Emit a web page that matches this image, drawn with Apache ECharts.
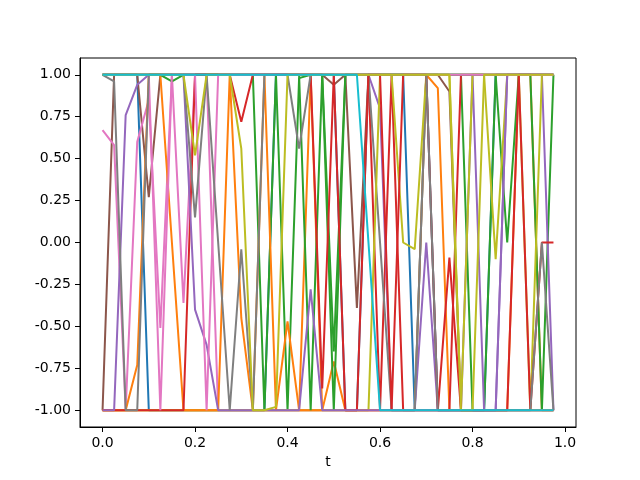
<!DOCTYPE html>
<html>
<head>
    <meta charset="utf-8">
    <title>t lines</title>
    <script src="https://cdn.jsdelivr.net/npm/echarts@6/dist/echarts.min.js"></script>
</head>
<style>
  body { margin: 0; background: #fff; }
</style>
<body>
    <div id="main" style="width: 640px;height:480px;"></div>
    <script type="text/javascript">
    // x values (t)
    var tValues = [0, 0.025, 0.05, 0.075, 0.1, 0.125, 0.15, 0.175, 0.2, 0.225,
                   0.25, 0.275, 0.3, 0.325, 0.35, 0.375, 0.4, 0.425, 0.45, 0.475,
                   0.5, 0.525, 0.55, 0.575, 0.6, 0.625, 0.65, 0.675, 0.7, 0.725,
                   0.75, 0.775, 0.8, 0.825, 0.85, 0.875, 0.9, 0.925, 0.95, 0.975];
    var xTicks = [0, 0.2, 0.4, 0.6, 0.8, 1.0];
    var yTicks = [-1, -0.75, -0.5, -0.25, 0, 0.25, 0.5, 0.75, 1];

    var blueA = [1,1,1,1,-1,-1,-1,-1,-1,-1, -1,-1,-1,-1,-1,1,1,1,1,1, 1,-1,-1,1,1,1,1,-1,1,-1, -1,-1,-1,-1,1,1,1,1,1,1];
    var orangeA = [-1,-1,-1,-1,-1,-1,-1,-1,-1,-1, -1,-1,-1,-1,-1,-1,-1,-1,1,-1, -1,-1,-1,-1,-1,-1,-1,-1,1,0.92, -1,-1,-1,-1,-1,-1,1,1,-1,-1];
    var greenA = [1,1,1,1,1,1,1,1,1,1, 1,1,1,1,-1,1,-1,0.98,1,1, -0.65,1,1,1,1,1,1,1,1,1, 1,1,-1,-1,1,0,1,1,-1,1];
    var redA = [1,1,1,1,1,1,1,1,1,1, 1,1,1,1,1,1,1,1,1,1, 1,1,1,1,-1,1,-1,-1,-1,-1, -1,1,1,1,1,1,1,1,1,1];
    var purpleA = [1,1,1,1,1,1,1,1,1,1, 1,1,1,1,1,1,1,1,1,1, 1,1,1,1,0.8,-1,-1,-1,0,-1, -1,-1,1,-1,-1,1,1,1,1,-1];
    var brownA = [-1,1,1,1,0.27,1,1,1,1,1, 1,1,1,1,1,1,1,1,1,1, 0.94,1,-0.39,1,1,1,1,1,1,1, 0.9,-1,-1,-1,-1,-1,-1,-1,-1,-1];
    var pinkA = [0.67,0.58,-1,0.6,0.85,-0.51,1,-0.36,1,1, -1,-1,-1,-1,-1,-1,-1,-1,-1,-1, -1,-1,-1,-1,-1,-1,-1,-1,-1,-1, -1,-1,-1,-1,-1,-1,-1,-1,-1,-1];
    var grayA = [1,1,1,1,1,1,1,1,1,1, 1,1,1,1,1,1,1,1,1,1, 1,1,1,1,0,-1,-1,-1,1,1, 1,1,1,1,1,1,1,1,1,1];
    var oliveA = [-1,-1,-1,-1,-1,-1,-1,-1,-1,-1, -1,-1,-1,-1,-1,-1,-1,-1,-1,-1, -1,-1,-1,-1,1,1,0,-0.04,1,1, 1,-1,1,1,-0.1,1,1,-1,1,1];
    var orangeB = [-1,-1,-1,-0.73,1,1,0,-1,-1,-1, -1,1,-0.45,-1,1,-1,-0.47,-1,-1,-1, -0.71,-1,-1,-1,-1,-1,-1,-1,-1,-1, -1,-1,-1,-1,-1,-1,-1,-1,-1,-1];
    var greenB = [1,1,1,1,1,1,0.96,1,1,1, 1,1,1,1,1,1,1,1,-1,1, -1,1,1,1,1,1,1,1,1,1, 1,1,1,1,1,1,1,1,1,1];
    var redB = [-1,-1,-1,-1,-1,-1,-1,-1,1,1, 1,1,0.72,1,1,1,1,1,1,-0.87, 1,-1,-1,1,1,-1,1,1,1,-1, -0.09,-1,-1,-1,-1,-1,1,-1,0,0];
    var purpleB = [-1,-1,0.76,0.94,1,1,1,1,-0.4,-0.61, -1,-1,-1,-1,-1,-1,-1,-1,-0.28,-1, -1,-1,-1,-1,-1,-1,-1,-1,-1,-1, -1,-1,-1,-1,-1,1,1,1,1,1];
    var pinkB = [1,1,1,1,1,-1,1,1,1,-1, 1,1,1,1,1,1,1,1,1,1, 1,1,1,1,1,1,1,1,1,1, 1,1,1,1,1,1,1,1,1,1];
    var grayB = [1,0.96,-1,-1,1,1,1,1,0.15,1, 0,-1,-0.04,-1,1,1,1,0.56,1,1, 1,1,1,1,1,1,1,1,1,-1, -1,-1,-1,-1,-1,-1,-1,-1,0,-1];
    var oliveB = [1,1,1,1,1,1,1,1,0.52,1, 1,1,0.56,-1,-1,-0.98,1,1,1,1, 1,1,1,1,1,1,1,1,1,1, 1,-1,-1,1,1,1,1,1,1,1];
    var cyan = [1,1,1,1,1,1,1,1,1,1, 1,1,1,1,1,1,1,1,1,1, 1,1,1,0,-1,-1,-1,-1,-1,-1, -1,-1,-1,-1,-1,-1,-1,-1,-1,-1];

    // draw order matters: later lines sit on top
    var lines = [
        [blueA, '#1f77b4'], [orangeA, '#ff7f0e'], [greenA, '#2ca02c'], [redA, '#d62728'],
        [purpleA, '#9467bd'], [brownA, '#8c564b'], [pinkA, '#e377c2'], [grayA, '#7f7f7f'],
        [oliveA, '#bcbd22'], [orangeB, '#ff7f0e'], [greenB, '#2ca02c'], [redB, '#d62728'],
        [purpleB, '#9467bd'], [pinkB, '#e377c2'], [grayB, '#7f7f7f'], [oliveB, '#bcbd22'],
        [cyan, '#17becf']
    ];

    var myChart = echarts.init(document.getElementById('main'));
    var labelFont = { color: '#000', fontSize: 14, fontFamily: 'DejaVu Sans' };

    var series = lines.map(function (l) {
        return {
            type: 'line',
            data: tValues.map(function (t, i) { return [t, l[0][i]]; }),
            showSymbol: false,
            lineStyle: { color: l[1], width: 2 },
            itemStyle: { color: l[1] },
            emphasis: { disabled: true }
        };
    });

    var option = {
        animation: false,
        grid: { left: 80, right: 64, top: 58, bottom: 53, show: true, borderColor: '#000', borderWidth: 1 },
        xAxis: {
            type: 'value',
            min: -0.04875,
            max: 1.02375,
            name: 't',
            nameLocation: 'middle',
            nameGap: 26,
            nameTextStyle: labelFont,
            axisLine: { show: true, onZero: false, lineStyle: { color: '#000' } },
            axisTick: { show: true, length: 5, lineStyle: { color: '#000' }, customValues: xTicks },
            axisLabel: Object.assign({ margin: 9, customValues: xTicks, formatter: function (v) { return v.toFixed(1); } }, labelFont),
            splitLine: { show: false }
        },
        yAxis: {
            type: 'value',
            min: -1.1,
            max: 1.1,
            axisLine: { show: true, onZero: false, lineStyle: { color: '#000' } },
            axisTick: { show: true, length: 5, lineStyle: { color: '#000' }, customValues: yTicks },
            axisLabel: Object.assign({ margin: 9, customValues: yTicks, formatter: function (v) { return v.toFixed(2); } }, labelFont),
            splitLine: { show: false }
        },
        series: series
    };
    myChart.setOption(option);
    </script>
</body>
</html>
